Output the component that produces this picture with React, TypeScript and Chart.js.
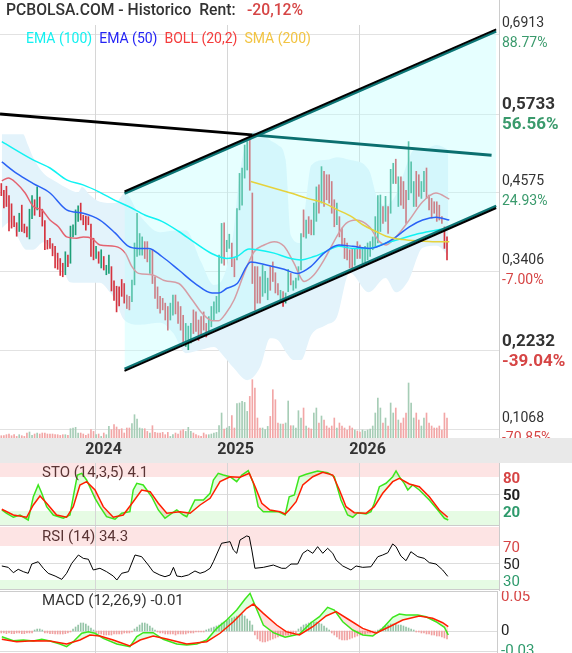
import React, { useEffect, useRef } from "react";
import { Chart, registerables } from "chart.js";

Chart.register(...registerables);

const FONT = "Roboto, 'Noto Sans', 'DejaVu Sans', sans-serif";

// ---------------- header ----------------
const titleText = "PCBOLSA.COM - Historico  Rent:";
const rentText = "-20,12%";
const legendLabels = ["EMA (100)", "EMA (50)", "BOLL (20,2)", "SMA (200)"];
const legendColors = ["#14f0f0", "#2424f4", "#f43c3c", "#f2c443"];

// ---------------- x axis (weekly candle index) ----------------
const xMin = -0.51;
const xMax = 194.3;
const yearLabels = ["2024", "2025", "2026"];
const yearIndex = [36.58, 88.11, 139.65];

// ---------------- price axis ----------------
const priceMin = 0.0934;
const priceMax = 0.7046;
const priceTicks = [0.6913, 0.5733, 0.4575, 0.3406, 0.2232, 0.1068];
const priceTickPct = ["88.77%", "56.56%", "24.93%", "-7.00%", "-39.04%", "-70.85%"];
const priceTickBold = [false, true, false, false, true, false];
const volMax = 413;

// ---------------- candles (weekly low / high, direction) ----------------
const candleLow = [
  0.452, 0.434, 0.436, 0.400, 0.404, 0.406, 0.392, 0.399, 0.399, 0.397,
  0.391, 0.388, 0.418, 0.423, 0.431, 0.421, 0.407, 0.372, 0.373, 0.374,
  0.363, 0.345, 0.343, 0.334, 0.332, 0.335, 0.347, 0.352, 0.391, 0.394,
  0.414, 0.416, 0.409, 0.401, 0.409, 0.362, 0.357, 0.359, 0.352, 0.345,
  0.342, 0.335, 0.337, 0.311, 0.297, 0.280, 0.289, 0.303, 0.293, 0.285,
  0.283, 0.295, 0.320, 0.362, 0.364, 0.364, 0.359, 0.354, 0.337, 0.322,
  0.300, 0.285, 0.278, 0.283, 0.268, 0.253, 0.268, 0.275, 0.277, 0.263,
  0.253, 0.234, 0.229, 0.224, 0.234, 0.248, 0.251, 0.238, 0.243, 0.253,
  0.243, 0.251, 0.258, 0.268, 0.278, 0.280, 0.352, 0.349, 0.369, 0.374,
  0.347, 0.332, 0.357, 0.431, 0.438, 0.478, 0.490, 0.460, 0.322, 0.283,
  0.293, 0.293, 0.303, 0.308, 0.298, 0.312, 0.325, 0.308, 0.305, 0.295,
  0.288, 0.293, 0.310, 0.320, 0.312, 0.315, 0.327, 0.342, 0.391, 0.389,
  0.396, 0.394, 0.394, 0.414, 0.426, 0.441, 0.436, 0.446, 0.441, 0.426,
  0.406, 0.409, 0.391, 0.377, 0.359, 0.357, 0.345, 0.342, 0.349, 0.359,
  0.359, 0.352, 0.354, 0.357, 0.362, 0.372, 0.377, 0.382, 0.399, 0.411,
  0.414, 0.396, 0.426, 0.470, 0.470, 0.436, 0.438, 0.433, 0.411, 0.446,
  0.456, 0.436, 0.436, 0.451, 0.448, 0.458, 0.448, 0.431, 0.419, 0.426,
  0.414, 0.416, 0.411, 0.374, 0.357,
];
const candleHigh = [
  0.470, 0.460, 0.466, 0.452, 0.440, 0.422, 0.412, 0.426, 0.438, 0.410,
  0.406, 0.432, 0.452, 0.446, 0.465, 0.450, 0.432, 0.415, 0.386, 0.389,
  0.381, 0.377, 0.367, 0.359, 0.352, 0.369, 0.364, 0.407, 0.409, 0.431,
  0.437, 0.441, 0.423, 0.422, 0.421, 0.410, 0.389, 0.377, 0.369, 0.372,
  0.362, 0.349, 0.364, 0.347, 0.326, 0.318, 0.317, 0.328, 0.322, 0.305,
  0.303, 0.327, 0.382, 0.426, 0.396, 0.391, 0.384, 0.384, 0.372, 0.372,
  0.332, 0.317, 0.303, 0.300, 0.293, 0.288, 0.293, 0.305, 0.305, 0.295,
  0.288, 0.275, 0.263, 0.259, 0.263, 0.283, 0.280, 0.268, 0.273, 0.280,
  0.263, 0.273, 0.288, 0.295, 0.303, 0.364, 0.411, 0.412, 0.386, 0.395,
  0.382, 0.359, 0.433, 0.485, 0.493, 0.527, 0.532, 0.537, 0.456, 0.347,
  0.347, 0.332, 0.349, 0.340, 0.330, 0.347, 0.354, 0.338, 0.322, 0.312,
  0.310, 0.308, 0.343, 0.337, 0.326, 0.330, 0.347, 0.396, 0.431, 0.416,
  0.421, 0.416, 0.441, 0.465, 0.468, 0.495, 0.488, 0.483, 0.483, 0.473,
  0.446, 0.441, 0.421, 0.404, 0.389, 0.382, 0.372, 0.374, 0.374, 0.384,
  0.379, 0.374, 0.377, 0.382, 0.384, 0.391, 0.421, 0.452, 0.453, 0.436,
  0.451, 0.436, 0.491, 0.500, 0.506, 0.480, 0.480, 0.473, 0.460, 0.532,
  0.502, 0.473, 0.488, 0.483, 0.473, 0.488, 0.493, 0.453, 0.448, 0.443,
  0.443, 0.438, 0.421, 0.406, 0.391,
];
const candleDir =
  "RRRRRRRGRR" + "RGGRGRRRRR" + "RRRRRGRGGG" + "GRRRRRRGRG" + "RGGRRRRRRR" +
  "RGGGGGRRGR" + "RRRRRRGGRR" + "RRGGGRRRRR" + "RGGGGGGRGG" + "RRGGGGGRRR" +
  "RRGGGRRRRG" + "RGGRGGGGRG" + "RRGGRGRRRR" + "RGRRRRRRGR" + "RGGGGGGGGR" +
  "GRGGRGRRRG" + "GGRRGGRRRR" + "RRRRR";
const volume = [
  2.3, 2.3, 3.3, 4, 2.3, 3.3, 1.6, 3.3, 2.3, 1.6,
  5, 6, 2.6, 4, 5, 4, 5, 5, 4, 4,
  4, 3.3, 3.3, 2.6, 3.3, 3.3, 2.6, 9.3, 10, 10.7,
  5, 5, 4, 2.6, 4, 8.3, 6.6, 3.3, 4, 1.6,
  5, 3.3, 11.6, 8.3, 13.3, 11, 8.3, 9.3, 5, 10,
  10, 14.3, 23.3, 19, 10, 9.3, 9.3, 6.6, 5, 12.3,
  5.6, 5, 5, 5.6, 3.3, 5.6, 1.6, 3.3, 5, 4,
  7.3, 8.3, 6.6, 10.7, 6.6, 5, 3.3, 2.3, 1.6, 5,
  3.3, 3.3, 4, 5, 5.6, 12.3, 25, 9, 10, 11.6,
  22.3, 10, 34.3, 35, 36.6, 35.6, 26.6, 41.6, 58.3, 50,
  20, 10, 10, 8.3, 11.6, 21.6, 48.3, 38.3, 15, 14,
  14, 15, 37, 12.3, 12.3, 10, 27.3, 20, 30, 12,
  10, 9, 25, 30, 15, 22, 18, 12, 10, 12,
  20, 10, 15, 12, 10, 8, 12, 10, 8, 7,
  6, 8, 7, 8, 9, 12, 25, 40, 30, 15,
  20, 12, 35, 25, 30, 18, 15, 20, 25, 55,
  35, 20, 25, 18, 12, 20, 25, 15, 12, 10,
  10, 12, 8, 25, 20,
];

// ---------------- overlays [index, price] ----------------
const ema100 = [
  [0.2, 0.532], [12.4, 0.505], [19, 0.493], [25.7, 0.475], [31.9, 0.468], [38.5, 0.457],
  [44.4, 0.445], [49.7, 0.436], [56.2, 0.423], [62.7, 0.414], [69.3, 0.399], [75.7, 0.382],
  [82.3, 0.366], [88.1, 0.359], [92, 0.362], [96.7, 0.373], [99.8, 0.372], [106.5, 0.367],
  [113, 0.359], [116.9, 0.357], [122.1, 0.362], [126, 0.368], [131.8, 0.377], [137.2, 0.374],
  [143.6, 0.374], [150.2, 0.382], [156.7, 0.389], [163.1, 0.396], [169.7, 0.401], [174.8, 0.404],
];
const ema50 = [
  [0.2, 0.502], [6, 0.485], [12.5, 0.47], [19, 0.456], [25.5, 0.431], [32, 0.426], [38.5, 0.416],
  [44.4, 0.397], [49.7, 0.377], [53.6, 0.374], [57.5, 0.374], [62.7, 0.362], [69.3, 0.342],
  [75.7, 0.322], [82.3, 0.308], [84.9, 0.308], [88.1, 0.315], [92.1, 0.322], [97.4, 0.354],
  [103.9, 0.349], [110.4, 0.343], [115.6, 0.337], [120.8, 0.347], [126, 0.367], [131.8, 0.379],
  [137.2, 0.377], [143.7, 0.374], [150.2, 0.382], [154.1, 0.391], [159.3, 0.406], [164.5, 0.416],
  [169.7, 0.42], [174.9, 0.416],
];
const bollMid = [
  [0.2, 0.474], [2.7, 0.478], [6, 0.47], [9.3, 0.456], [12.5, 0.436], [15.8, 0.431], [19, 0.416],
  [22.3, 0.406], [25.5, 0.391], [29.4, 0.389], [32, 0.391], [35.3, 0.389], [38.5, 0.379],
  [44.4, 0.377], [48.4, 0.367], [51, 0.347], [53.6, 0.337], [58.8, 0.335], [64, 0.326],
  [69.3, 0.322], [74.5, 0.298], [78.4, 0.278], [82.3, 0.267], [84.9, 0.267], [87.5, 0.277],
  [90.9, 0.298], [94.8, 0.337], [98.7, 0.369], [102.6, 0.379], [106.5, 0.384], [110.4, 0.377],
  [114.3, 0.352], [118.2, 0.325], [122.1, 0.335], [126, 0.357], [131.8, 0.397], [134.6, 0.411],
  [138.5, 0.416], [143.7, 0.406], [147.6, 0.384], [150.2, 0.379], [154.1, 0.391], [159.3, 0.416],
  [164.5, 0.443], [169.7, 0.456], [174.9, 0.447],
];
const bollUpper = [
  [0.2, 0.543], [8.5, 0.543], [10.4, 0.527], [12.4, 0.509], [16.3, 0.486], [21.7, 0.472],
  [25.7, 0.463], [30, 0.457], [31.5, 0.465], [34.6, 0.453], [38.5, 0.443], [44.4, 0.441],
  [48.3, 0.456], [54, 0.423], [62, 0.398], [67, 0.4], [72, 0.401], [78, 0.354], [83, 0.32],
  [86.5, 0.33], [90.5, 0.394], [93, 0.483], [96, 0.534], [101, 0.549], [105, 0.534], [108, 0.527],
  [111, 0.505], [113, 0.394], [117, 0.382], [119, 0.446], [121, 0.497], [127, 0.505], [131, 0.509],
  [136, 0.505], [143.5, 0.49], [147, 0.446], [150, 0.438], [154, 0.453], [159, 0.505], [161, 0.52],
  [164.5, 0.52], [170, 0.527], [174.5, 0.52],
];
const bollLower = [
  [0.2, 0.404], [3.4, 0.413], [6, 0.394], [9.9, 0.372], [12.5, 0.372], [16.4, 0.383], [20.3, 0.367],
  [24.2, 0.342], [26.8, 0.324], [32, 0.323], [38.5, 0.323], [42.4, 0.309], [44.4, 0.298], [48, 0.268],
  [54, 0.261], [62, 0.264], [67, 0.249], [72, 0.219], [78, 0.224], [83, 0.228], [86.5, 0.216],
  [90.5, 0.198], [96, 0.179], [101, 0.198], [105, 0.241], [108, 0.238], [111.4, 0.219], [114, 0.209],
  [117, 0.209], [121, 0.246], [127, 0.261], [131, 0.272], [136, 0.338], [143.5, 0.309], [150, 0.33],
  [154, 0.309], [159, 0.327], [164.5, 0.375], [170, 0.378], [174.5, 0.364],
];
const sma200 = [
  [97.4, 0.473], [106.5, 0.463], [113, 0.456], [119.5, 0.448], [126, 0.441], [130.7, 0.432],
  [137.2, 0.42], [141.1, 0.409], [146.3, 0.399], [150.2, 0.392], [156.7, 0.387], [163.1, 0.385],
  [169.7, 0.384], [174.9, 0.384],
];

// ---------------- trend lines [index, price] ----------------
const channelTop = [[48.1, 0.457], [193.2, 0.697]];
const channelBottom = [[48.1, 0.194], [193.2, 0.435]];
const resistanceOld = [[-0.5, 0.573], [97.9, 0.542]];
const resistanceNew = [[97.9, 0.542], [191.4, 0.512]];

// ---------------- oscillators [index, value] ----------------
const stoTitle = "STO (14,3,5) 4.1";
const stoK = [
  [0.2, 21.8], [2.1, 15.9], [4.7, 8.9], [7.3, 12.9], [10.5, 4.1], [12.5, 45.2], [14.4, 65.9],
  [15.8, 51.2], [17.7, 27.6], [20.3, 12.9], [24.2, 7.1], [26.8, 12.9], [28.1, 45.2], [29.7, 83.5],
  [31.4, 86.5], [33.3, 74.7], [36.6, 42.4], [38.5, 27.6], [41.1, 9.9], [44.4, 5.4], [47, 15.9],
  [50.2, 18.8], [51.5, 57.1], [52.9, 68.9], [55.4, 65.9], [58.7, 45.2], [61.3, 21.8], [63.9, 7.1],
  [66.5, 15.9], [68.5, 21.8], [71.1, 12.9], [72.4, 9.9], [74.3, 27.6], [75.6, 39.4], [78.9, 39.4],
  [81.5, 51.2], [82.8, 74.7], [84.7, 86.5], [86.7, 83.5], [89.3, 80.5], [91.9, 71.7], [93.9, 83.5],
  [96.4, 91.1], [98.4, 68.9], [100.3, 27.6], [102.3, 18.8], [104.9, 18.8], [108.1, 18.8],
  [110.8, 12.9], [112.4, 45.2], [114.4, 48.2], [116.3, 80.5], [119, 84.8], [123.5, 90.6],
  [127.4, 87.6], [130, 80.5], [132.6, 39.4], [135.2, 12.9], [137.2, 8.9], [139.1, 17], [142.4, 14.7],
  [144.3, 18.8], [145.6, 33.6], [147.6, 62.9], [150.2, 68.9], [152.8, 80.5], [154.1, 90.6],
  [155.4, 80.5], [157.3, 68.9], [158.7, 57.1], [160.6, 65.9], [163.2, 57.1], [167.1, 39.4],
  [170.4, 21.8], [173, 7.1], [174.5, 4.1],
];
const stoD = [
  [0.2, 23], [4.7, 12.9], [9.9, 8.9], [12.5, 30.6], [15.1, 46.5], [17.7, 33.6], [21.6, 12.9],
  [25.5, 8.9], [28.1, 27.6], [30.7, 65.9], [33.3, 71.7], [36.6, 57.1], [39.8, 27.6], [43.7, 8.9],
  [47.6, 12.9], [51.5, 36.4], [54.8, 57.1], [58.1, 54.1], [61.3, 33.6], [64.6, 15.9], [69.8, 18.8],
  [73.7, 15.9], [77.6, 30.6], [81.5, 42.4], [85.4, 71.7], [89.3, 80.5], [93.2, 79.5], [96.8, 86.5],
  [99.1, 62.9], [101.7, 33.6], [104.9, 21.8], [108.8, 18.8], [110.8, 14.7], [112.4, 21.8],
  [115.1, 36.4], [117.7, 65.9], [121.6, 80.5], [125.5, 88.3], [129.4, 83.5], [132, 57.1],
  [134.6, 27.6], [137.8, 17], [142.4, 15.9], [145.6, 27.6], [148.9, 51.2], [152.8, 71.7],
  [155.4, 77.7], [159.3, 67.6], [163.2, 62.9], [167.1, 45.2], [171, 21.8], [174.3, 8.9],
];
const rsiTitle = "RSI (14) 34.3";
const rsi = [
  [0.2, 46.5], [2.7, 44.9], [4.7, 38.6], [6.6, 42.6], [8.6, 39.8], [10.5, 37.9], [11.9, 48.8],
  [14.4, 51.5], [16.4, 43.8], [18.3, 37.9], [21, 34.7], [23.6, 30.8], [25.5, 37.9], [27.5, 49.6],
  [30.1, 59.4], [32, 55.5], [34, 54.4], [35.9, 41.8], [38.5, 43.8], [41.1, 39.8], [43.7, 34.7],
  [45.1, 30], [47, 37.9], [49.6, 39.8], [52.2, 59.4], [54.8, 57.4], [57.4, 47.6], [59.3, 39.8],
  [61.9, 35.9], [63.9, 33.9], [65.9, 35.9], [67.2, 44.9], [68.5, 34.7], [70.4, 33.9], [73, 35.9],
  [75.6, 40.6], [77.6, 37.9], [79.5, 39.8], [81.5, 43.8], [82.8, 51.5], [86, 73.2], [89.3, 75.1],
  [90.6, 65.3], [91.9, 61.4], [93.2, 77.1], [95.8, 81.8], [96.8, 80.9], [97.8, 65.3], [99, 43.8],
  [102.3, 44.9], [106.2, 47.6], [109.5, 43.8], [111.1, 43.8], [113.1, 48.8], [115.7, 48.8],
  [117.7, 61.4], [119.6, 65.3], [121.6, 61.4], [123.5, 69.2], [125.5, 61.4], [127.4, 67.3],
  [129.4, 61.4], [130.7, 53.5], [133.3, 46.5], [136.5, 41.8], [138.5, 46.5], [141.1, 44.9],
  [144.3, 45.6], [147, 57.4], [148.9, 59.4], [150.9, 62.1], [152.8, 72.4], [154.1, 69.2], [156, 58.2],
  [158, 52.7], [159.9, 63.3], [162.6, 57.4], [165.1, 55.5], [167.1, 50.4], [169.7, 48.8],
  [172.3, 41.8], [174.3, 34.3],
];
const macdTitle = "MACD (12,26,9) -0.01";
const macdLine = [
  [0.2, -0.0085], [4.7, -0.0145], [8.6, -0.0135], [12.5, -0.015], [15.8, -0.0124], [19, -0.015],
  [22.9, -0.0195], [25.5, -0.0235], [28.1, -0.016], [31.4, -0.0034], [34, -0.001], [36.6, -0.0034],
  [39.8, -0.011], [45.1, -0.0195], [50.2, -0.0235], [52.9, -0.0085], [55.4, -0.0025], [59.3, -0.0025],
  [63.2, -0.0124], [68.5, -0.0195], [72.4, -0.021], [76.3, -0.0195], [80.2, -0.0135], [84.1, 0.004],
  [88, 0.0165], [91.9, 0.0315], [95.1, 0.0475], [97.1, 0.0565], [99, 0.039], [102.3, 0.009],
  [106.2, -0.0025], [110.8, -0.0094], [116.4, -0.0045], [120.9, 0.0124], [124.2, 0.0214],
  [127.4, 0.0355], [130, 0.0315], [133.3, 0.0139], [137.2, 0.0015], [141.1, -0.006], [145, -0.0075],
  [148.9, 0.004], [152.8, 0.0205], [155.4, 0.0255], [158, 0.024], [162.6, 0.024], [165.8, 0.0214],
  [169.7, 0.0139], [173, 0.0055], [174.5, -0.006],
];
const macdSignal = [
  [0.2, -0.0124], [6, -0.016], [12.5, -0.0145], [19, -0.015], [25.5, -0.0195], [30.7, -0.0135],
  [34.6, -0.006], [38.5, -0.0075], [43.7, -0.0135], [50.2, -0.0225], [54.2, -0.0135], [59.3, -0.0075],
  [64.6, -0.012], [72.4, -0.0195], [80.2, -0.016], [85.4, -0.0034], [90.6, 0.0139], [95.8, 0.034],
  [98.4, 0.0405], [102.3, 0.0265], [107.5, 0.009], [111.2, -0.001], [116.4, -0.006], [121.6, 0.0064],
  [126.8, 0.0225], [130.7, 0.029], [135.9, 0.0165], [141.1, 0.004], [146.3, -0.0034], [151.5, 0.0064],
  [156.7, 0.0165], [163.2, 0.0225], [168.4, 0.019], [172.3, 0.0124], [174.5, 0.0064],
];
// histogram per candle, in thousandths
const macdHist = [
  -3, -3, -4, -3, -4, -4, -3, -3, -4, -4, -3, -3, -3,
  1.5, 3, 3, 1.5,
  -3, -3, -4, -4, -4.5, -4.5, -4.5, -4.5, -4, -3, -1.5,
  3, 6, 9, 12, 12, 10.5, 7.5, 4.5, 1.5,
  -3, -4.5, -4.5, -6, -6, -6, -6, -4.5, -4.5, -4.5, -4.5, -3, -3, -3, -1.5,
  3, 6, 9, 12, 12, 10.5, 7.5, 4.5, 1.5,
  -1.5, -3, -3, -4.5, -4.5, -4.5, -4.5, -6, -4.5, -4.5, -4.5, -4.5, -3, -3, -3, -1.5, -1.5, -1.5, -1.5,
  1.5, 3, 4.5, 6, 7.5, 9, 12, 13.5, 15, 18, 19.5, 21, 22.5, 24, 25.5, 22.5, 18, 15, 9,
  -6, -12, -15, -16.5, -16.5, -15, -13.5, -12, -10.5, -9, -7.5, -7.5, -6,
  -6, -6, -4.5, -3,
  3, 6, 9, 10.5, 12, 13.5, 13.5, 13.5, 12, 10.5, 7.5, 4.5, 1.5,
  -3, -6, -9, -12, -13.5, -13.5, -13.5, -12, -10.5, -9, -7.5, -6, -4.5, -4.5, -3, -3, -1.5, -1.5,
  1.5, 3, 6, 7.5, 9, 10.5, 10.5, 10.5, 9, 9, 7.5, 6, 4.5, 3, 1.5,
  -1.5, -1.5, -3, -3, -4.5, -4.5, -6, -6, -7.5, -7.5, -9, -10.5, -12,
];

// ---------------- helpers ----------------
const pts = (a: number[][]) => a.map((p) => ({ x: p[0], y: p[1] }));
const xScale: any = { type: "linear", min: xMin, max: xMax, display: false, offset: false };
const mono = { cubicInterpolationMode: "monotone" };

function baseOptions(extra: any) {
  return {
    responsive: false,
    animation: false,
    devicePixelRatio: 1,
    events: [],
    plugins: { legend: { display: false }, tooltip: { enabled: false } },
    ...extra,
  };
}

function lineDs(data: number[][], color: string, width: number, order: number, extra: any = {}) {
  return {
    type: "line",
    data: pts(data),
    borderColor: color,
    borderWidth: width,
    pointRadius: 0,
    fill: false,
    order,
    ...extra,
  };
}

function hline(ctx: CanvasRenderingContext2D, x1: number, x2: number, y: number) {
  ctx.beginPath();
  ctx.moveTo(x1, y);
  ctx.lineTo(x2, y);
  ctx.stroke();
}
function vline(ctx: CanvasRenderingContext2D, x: number, y1: number, y2: number) {
  ctx.beginPath();
  ctx.moveTo(x, y1);
  ctx.lineTo(x, y2);
  ctx.stroke();
}

const shiftPlugin = {
  id: "shift",
  beforeDatasetDraw(chart: any, args: any) {
    const dy = chart.data.datasets[args.index].dy;
    if (dy) {
      chart.ctx.save();
      chart.ctx.translate(0, dy);
    }
  },
  afterDatasetDraw(chart: any, args: any) {
    const dy = chart.data.datasets[args.index].dy;
    if (dy) chart.ctx.restore();
  },
};

// ---------------- main price chart ----------------
function mainConfig(): any {
  const idx = candleLow.map((_, i) => i);
  const up = (i: number) => candleDir[i] === "G";
  const datasets: any[] = [
    lineDs(bollUpper, "rgba(0,0,0,0)", 1, 20, mono), // 0
    lineDs(bollLower, "rgba(0,0,0,0)", 1, 20, { ...mono, fill: { target: 0 }, backgroundColor: "#e3f3fb" }), // 1
    {
      type: "bar",
      yAxisID: "yv",
      data: idx.map((i) => ({ x: i, y: volume[i] })),
      backgroundColor: idx.map((i) => (up(i) ? "#a6cdb6" : "#f2a6a6")),
      barThickness: 1,
      grouped: false,
      order: 18,
    }, // 2
    {
      type: "bar",
      yAxisID: "y",
      data: idx.map((i) => ({ x: i, y: [candleLow[i], candleHigh[i]] })),
      backgroundColor: idx.map((i) => (up(i) ? "#1e9f78" : "#d5333f")),
      barThickness: 1,
      grouped: false,
      order: 16,
    }, // 3
    lineDs(bollMid, "#e4626f", 1.5, 15, mono), // 4
    lineDs(channelTop, "rgba(0,0,0,0)", 1, 14), // 5
    lineDs(channelBottom, "rgba(0,0,0,0)", 1, 14, { fill: { target: 5 }, backgroundColor: "rgba(190,255,255,0.38)" }), // 6
    lineDs(ema100, "#12f2f2", 1.5, 10, mono), // 7
    lineDs(ema50, "#2a62f5", 1.5, 9, mono), // 8
    lineDs(sma200, "#e6d23c", 1.5, 8, mono), // 9
    lineDs(resistanceOld, "#000000", 3, 5), // 10
    lineDs(resistanceNew, "#0b6f6f", 3, 5), // 11
    lineDs(channelTop, "#0b7474", 2.5, 4, { dy: 1.2 }), // 12
    lineDs(channelTop, "#000000", 2, 3, { dy: -0.8 }), // 13
    lineDs(channelBottom, "#0b7474", 2.5, 4, { dy: -1.2 }), // 14
    lineDs(channelBottom, "#000000", 2, 3, { dy: 0.8 }), // 15
  ];

  const decor = {
    id: "mainDecor",
    beforeDatasetsDraw(chart: any) {
      const { ctx, chartArea: a, scales } = chart;
      ctx.save();
      ctx.lineWidth = 1;
      ctx.strokeStyle = "#e2e2e2";
      priceTicks.forEach((v) => hline(ctx, a.left, a.right, Math.round(scales.y.getPixelForValue(v)) + 0.5));
      ctx.strokeStyle = "#d6d6d6";
      yearIndex.forEach((v) => vline(ctx, Math.round(scales.x.getPixelForValue(v)) + 0.5, a.top, a.bottom));
      ctx.restore();
    },
    afterDraw(chart: any) {
      const { ctx, chartArea: a, scales } = chart;
      ctx.save();
      ctx.textAlign = "left";
      ctx.textBaseline = "middle";
      priceTicks.forEach((v, k) => {
        const y = scales.y.getPixelForValue(v);
        const bold = priceTickBold[k];
        ctx.font = bold ? `bold 17px ${FONT}` : `14px ${FONT}`;
        ctx.fillStyle = "#333333";
        ctx.fillText(v.toFixed(4).replace(".", ","), 502, y - (bold ? 9 : 10.5));
        ctx.fillStyle = priceTickPct[k].startsWith("-") ? "#d64545" : "#3a9a6c";
        ctx.fillText(priceTickPct[k], 502, y + (bold ? 11 : 9.5));
      });
      ctx.strokeStyle = "#cccccc";
      ctx.lineWidth = 1;
      vline(ctx, a.right + 0.5, 0, a.bottom);
      // x axis band
      ctx.fillStyle = "#e9e9e9";
      ctx.fillRect(0, a.bottom, chart.width, chart.height - a.bottom);
      ctx.font = `bold 16px ${FONT}`;
      ctx.fillStyle = "#333333";
      ctx.textAlign = "center";
      yearIndex.forEach((v, k) => ctx.fillText(yearLabels[k], scales.x.getPixelForValue(v) + 8.5, a.bottom + 12));
      // title
      ctx.textAlign = "left";
      ctx.font = `500 15.7px ${FONT}`;
      ctx.fillStyle = "#333333";
      ctx.fillText(titleText, 6, 11.5);
      ctx.fillStyle = "#d64545";
      ctx.fillText(rentText, 247, 11.5);
      // legend
      ctx.font = `14px ${FONT}`;
      let x = 26;
      legendLabels.forEach((t, k) => {
        ctx.fillStyle = legendColors[k];
        ctx.fillText(t, x, 39.5);
        x += ctx.measureText(t).width + 7;
      });
      ctx.restore();
    },
  };

  return {
    type: "bar",
    data: { datasets },
    options: baseOptions({
      layout: { padding: { top: 25, right: 73, bottom: 25, left: 0 } },
      scales: {
        x: xScale,
        y: { type: "linear", min: priceMin, max: priceMax, display: false },
        yv: { type: "linear", min: 0, max: volMax, display: false },
      },
    }),
    plugins: [shiftPlugin, decor],
  };
}

// ---------------- oscillator panels ----------------
function panelDecor(o: any) {
  return {
    id: "panelDecor",
    beforeDatasetsDraw(chart: any) {
      const { ctx, chartArea: a, scales } = chart;
      ctx.save();
      if (o.high !== undefined) {
        const y = scales.y.getPixelForValue(o.high);
        ctx.fillStyle = "#fde4e4";
        ctx.fillRect(a.left, a.top + o.highInset, a.right - a.left, y - a.top - o.highInset);
      }
      if (o.low !== undefined) {
        const y = scales.y.getPixelForValue(o.low);
        ctx.fillStyle = "#e6fbe4";
        ctx.fillRect(a.left, y, a.right - a.left, a.bottom - o.lowInset - y);
      }
      ctx.lineWidth = 1;
      ctx.strokeStyle = "#dddddd";
      o.grid.forEach((v: number) => hline(ctx, a.left, o.rightX, Math.round(scales.y.getPixelForValue(v)) + 0.5));
      ctx.strokeStyle = "#d6d6d6";
      yearIndex.forEach((v) => vline(ctx, Math.round(scales.x.getPixelForValue(v)) + 0.5, a.top, a.bottom));
      ctx.restore();
    },
    afterDraw(chart: any) {
      const { ctx, chartArea: a, scales } = chart;
      ctx.save();
      ctx.lineWidth = 1;
      ctx.strokeStyle = "#cccccc";
      vline(ctx, o.rightX + 0.5, a.top, a.bottom);
      if (o.bottomLine !== undefined) hline(ctx, a.left, o.rightX, a.bottom - o.bottomLine);
      if (o.topLine) hline(ctx, a.left, o.rightX, a.top + 0.5);
      ctx.textBaseline = "middle";
      ctx.textAlign = "left";
      ctx.font = o.labelFont;
      o.labels.forEach((l: any) => {
        ctx.fillStyle = l.c;
        ctx.fillText(l.t, o.labelX, scales.y.getPixelForValue(l.v) + o.labelDy);
      });
      ctx.font = `15px ${FONT}`;
      ctx.fillStyle = o.titleColor;
      ctx.fillText(o.title, 42, a.top + o.titleY);
      ctx.restore();
    },
  };
}

const RED = "#d64545";
const GREEN = "#2e9a6c";

function stoConfig(): any {
  return {
    type: "line",
    data: {
      datasets: [
        lineDs(stoK, "#3ce61c", 1.5, 2, {
          fill: { target: 1, above: "rgba(70,255,70,0.18)", below: "rgba(255,70,70,0.18)" },
        }),
        lineDs(stoD, "#ff1e00", 1.5, 1),
      ],
    },
    options: baseOptions({
      layout: { padding: { right: 73 } },
      scales: { x: xScale, y: { type: "linear", min: -6.5, max: 104.7, display: false } },
    }),
    plugins: [
      panelDecor({
        high: 80, highInset: 0, low: 20, lowInset: 1, grid: [50], rightX: 499,
        bottomLine: 0.5,
        labels: [
          { v: 80, t: "80", c: RED },
          { v: 50, t: "50", c: "#222222" },
          { v: 20, t: "20", c: GREEN },
        ],
        labelFont: `bold 15px ${FONT}`, labelX: 503, labelDy: 2.5,
        title: stoTitle, titleColor: "#5a3434", titleY: 10,
      }),
    ],
  };
}

function rsiConfig(): any {
  return {
    type: "line",
    data: { datasets: [lineDs(rsi, "#000000", 1, 1)] },
    options: baseOptions({
      layout: { padding: { right: 73 } },
      scales: { x: xScale, y: { type: "linear", min: 17.1, max: 93.5, display: false } },
    }),
    plugins: [
      panelDecor({
        high: 70, highInset: 1, low: 30, lowInset: 2, grid: [50], rightX: 499,
        bottomLine: 1.5,
        labels: [
          { v: 70, t: "70", c: RED },
          { v: 50, t: "50", c: "#222222" },
          { v: 30, t: "30", c: GREEN },
        ],
        labelFont: `15px ${FONT}`, labelX: 503, labelDy: 2,
        title: rsiTitle, titleColor: "#5a3434", titleY: 11,
      }),
    ],
  };
}

function macdConfig(): any {
  const idx = macdHist.map((_, i) => i);
  return {
    type: "bar",
    data: {
      datasets: [
        {
          type: "bar",
          data: idx.map((i) => ({ x: i, y: macdHist[i] / 1000 })),
          backgroundColor: idx.map((i) => (macdHist[i] >= 0 ? "#95c4a7" : "#f1a1a1")),
          barThickness: 1,
          grouped: false,
          order: 5,
        },
        lineDs(macdLine, "#3ce61c", 1.5, 2, {
          fill: { target: 2, above: "rgba(70,255,70,0.18)", below: "rgba(255,70,70,0.18)" },
        }),
        lineDs(macdSignal, "#ff1e00", 1.5, 1),
      ],
    },
    options: baseOptions({
      layout: { padding: { right: 73 } },
      scales: { x: xScale, y: { type: "linear", min: -0.033, max: 0.06, display: false } },
    }),
    plugins: [
      panelDecor({
        grid: [0, -0.03], rightX: 497, topLine: true,
        labels: [
          { v: 0.05, t: "0.05", c: RED },
          { v: 0, t: "0", c: "#222222" },
          { v: -0.03, t: "-0.03", c: GREEN },
        ],
        labelFont: `15px ${FONT}`, labelX: 501, labelDy: 0,
        title: macdTitle, titleColor: "#333333", titleY: 10,
      }),
    ],
  };
}

export default function App() {
  const mainRef = useRef<HTMLCanvasElement>(null);
  const stoRef = useRef<HTMLCanvasElement>(null);
  const rsiRef = useRef<HTMLCanvasElement>(null);
  const macdRef = useRef<HTMLCanvasElement>(null);

  useEffect(() => {
    const charts = [
      new Chart(mainRef.current as HTMLCanvasElement, mainConfig()),
      new Chart(stoRef.current as HTMLCanvasElement, stoConfig()),
      new Chart(rsiRef.current as HTMLCanvasElement, rsiConfig()),
      new Chart(macdRef.current as HTMLCanvasElement, macdConfig()),
    ];
    return () => charts.forEach((c) => c.destroy());
  }, []);

  const abs = (top: number, h: number): React.CSSProperties => ({
    position: "absolute",
    left: 0,
    top,
    width: 572,
    height: h,
    display: "block",
  });

  return (
    <div style={{ position: "absolute", left: 0, top: 0, width: 572, height: 653, background: "#ffffff", overflow: "hidden" }}>
      <canvas ref={mainRef} width={572} height={463} style={abs(0, 463)} />
      <canvas ref={stoRef} width={572} height={63} style={abs(463, 63)} />
      <canvas ref={rsiRef} width={572} height={65} style={abs(526, 65)} />
      <canvas ref={macdRef} width={572} height={62} style={abs(591, 62)} />
    </div>
  );
}
